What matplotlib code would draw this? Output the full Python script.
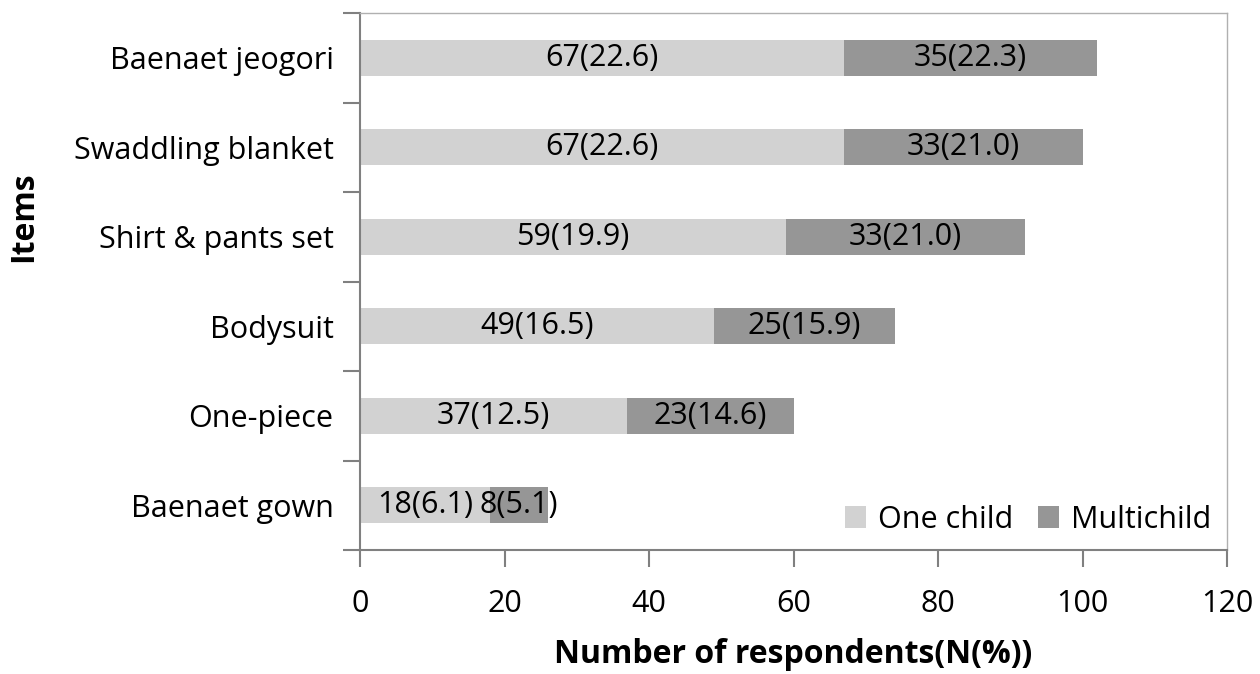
import matplotlib.pyplot as plt
import numpy as np

# data, top to bottom as in the figure
items = ['Baenaet jeogori', 'Swaddling blanket', 'Shirt & pants set',
         'Bodysuit', 'One-piece', 'Baenaet gown']
one_child = [67, 67, 59, 49, 37, 18]
one_child_pct = [22.6, 22.6, 19.9, 16.5, 12.5, 6.1]
multichild = [35, 33, 33, 25, 23, 8]
multichild_pct = [22.3, 21.0, 21.0, 15.9, 14.6, 5.1]

plt.rcParams['font.family'] = ['Open Sans', 'DejaVu Sans']

fig = plt.figure(figsize=(12.6, 6.74), dpi=100)
ax = fig.add_axes([360 / 1260, 1 - 550 / 674, (1227 - 360) / 1260, (550 - 13) / 674])

y = np.arange(len(items))[::-1]
light = '#d2d2d2'
dark = '#969696'
h = 0.4
fs = 22

ax.barh(y, one_child, height=h, color=light, label='One child')
ax.barh(y, multichild, left=one_child, height=h, color=dark, label='Multichild')

for i in range(len(items)):
    ax.text(one_child[i] / 2, y[i], f'{one_child[i]}({one_child_pct[i]:.1f})',
            ha='center', va='center', fontsize=fs)
    ax.text(one_child[i] + multichild[i] / 2, y[i], f'{multichild[i]}({multichild_pct[i]:.1f})',
            ha='center', va='center', fontsize=fs)

ax.set_xlim(0, 120)
ax.set_ylim(-0.5, len(items) - 0.5)
ax.set_xticks(range(0, 121, 20))
ax.set_yticks(y)
ax.set_yticklabels(items, fontsize=fs)
ax.set_yticks(np.arange(-0.5, len(items), 1), minor=True)
ax.tick_params(axis='y', which='major', length=0, pad=19)
ax.tick_params(axis='y', which='minor', length=12, width=1.5, color='#808080')
ax.tick_params(axis='x', length=12, width=1.5, color='#808080', labelsize=fs, pad=16)

for s in ['left', 'bottom']:
    ax.spines[s].set_color('#808080')
    ax.spines[s].set_linewidth(1.5)
for s in ['top', 'right']:
    ax.spines[s].set_color('#b0b0b0')
    ax.spines[s].set_linewidth(1)

ax.set_xlabel('Number of respondents(N(%))', fontsize=23, fontweight='bold', labelpad=14)
# y title sits above the axes middle in the original
fig.text(24 / 1260, 1 - 217 / 674, 'Items', rotation=90, ha='center', va='center',
         fontsize=23, fontweight='bold')

ax.legend(loc='lower right', frameon=False, fontsize=fs, ncol=2, handlelength=0.7,
          handleheight=0.7, handletextpad=0.4, columnspacing=0.8,
          borderaxespad=0.1)

fig.savefig('out.png', dpi=100)
